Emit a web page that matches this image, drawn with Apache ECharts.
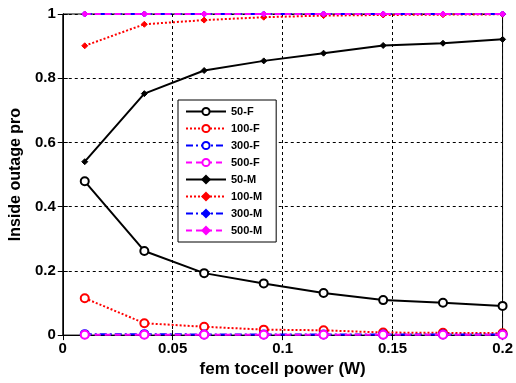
<!DOCTYPE html>
<html>
<head>
<meta charset="utf-8">
<script src="https://cdn.jsdelivr.net/npm/echarts@6/dist/echarts.min.js"></script>
<style>
  html, body { margin: 0; padding: 0; background: #fff; }
  #chart { width: 516px; height: 383px; }
</style>
</head>
<body>
<div id="chart"></div>
<script>
// femtocell power (W)
const power = [0.01, 0.0371, 0.0643, 0.0914, 0.1186, 0.1457, 0.1729, 0.2];

const f50 = [0.479, 0.262, 0.193, 0.161, 0.131, 0.109, 0.101, 0.091];
const f100 = [0.115, 0.037, 0.026, 0.017, 0.015, 0.008, 0.007, 0.006];
const f300 = [0.003, 0.003, 0.002, 0.002, 0.002, 0.002, 0.002, 0.002];
const f500 = [0.001, 0.001, 0.001, 0.001, 0.001, 0.001, 0.001, 0.001];
const m50 = [0.540, 0.752, 0.824, 0.854, 0.878, 0.902, 0.909, 0.921];
const m100 = [0.901, 0.968, 0.981, 0.990, 0.995, 0.997, 0.998, 0.999];
const m300 = [1, 1, 1, 1, 1, 1, 1, 1];
const m500 = [1, 1, 1, 1, 1, 1, 1, 1];

const names = ['50-F', '100-F', '300-F', '500-F', '50-M', '100-M', '300-M', '500-M'];
const values = [f50, f100, f300, f500, m50, m100, m300, m500];
const colors = ['#000000', '#ff0000', '#0000ff', '#ff00ff'];
const dashes = ['solid', [2, 2], [7, 3, 2, 3], [6, 4]];

const pairs = (ys) => power.map((x, i) => [x, ys[i]]);

const series = names.map((name, i) => {
  const k = i % 4;
  const isF = i < 4;
  return {
    name: name,
    type: 'line',
    data: pairs(values[i]),
    symbol: isF ? 'emptyCircle' : 'diamond',
    symbolSize: isF ? 8 : 6,
    color: colors[k],
    lineStyle: { color: colors[k], width: 2, type: dashes[k] },
    itemStyle: { color: colors[k], borderColor: colors[k], borderWidth: isF ? 2 : 1 },
    z: 2 + i
  };
});

const chart = echarts.init(document.getElementById('chart'));

const option = {
  animation: false,
  textStyle: { fontFamily: 'Arial, Liberation Sans, sans-serif' },
  grid: {
    left: 62, right: 12, top: 14, bottom: 47,
    show: true, borderColor: '#000', borderWidth: 1
  },
  legend: {
    orient: 'vertical',
    left: 178,
    top: 100,
    padding: [6, 14, 6, 7],
    itemWidth: 40,
    itemHeight: 9,
    itemGap: 6,
    backgroundColor: '#fff',
    borderColor: '#000',
    borderWidth: 1,
    textStyle: { fontSize: 11, fontWeight: 'bold', color: '#000', fontFamily: 'Arial, Liberation Sans, sans-serif' },
    data: names
  },
  xAxis: [{
    type: 'value',
    min: 0,
    max: 0.2,
    interval: 0.05,
    name: 'fem tocell power (W)',
    nameLocation: 'middle',
    nameGap: 25,
    nameTextStyle: { fontSize: 17, fontWeight: 'bold', color: '#000' },
    axisLine: { lineStyle: { color: '#000' } },
    axisTick: { inside: true, length: 5, lineStyle: { color: '#000' } },
    axisLabel: { fontSize: 15, fontWeight: 'bold', color: '#000', margin: 6 },
    splitLine: { show: true, lineStyle: { color: '#000', type: [3, 3], width: 1 } }
  }, {
    type: 'value',
    position: 'top',
    min: 0,
    max: 0.2,
    interval: 0.05,
    axisLine: { lineStyle: { color: '#000' } },
    axisTick: { inside: true, length: 5, lineStyle: { color: '#000' } },
    axisLabel: { show: false },
    splitLine: { show: false }
  }],
  yAxis: [{
    type: 'value',
    min: 0,
    max: 1,
    interval: 0.2,
    name: 'Inside outage pro',
    nameLocation: 'middle',
    nameGap: 36,
    nameTextStyle: { fontSize: 16, fontWeight: 'bold', color: '#000' },
    axisLine: { show: true, lineStyle: { color: '#000' } },
    axisTick: { show: true, inside: true, length: 5, lineStyle: { color: '#000' } },
    axisLabel: { fontSize: 15, fontWeight: 'bold', color: '#000', margin: 7 },
    splitLine: { show: true, lineStyle: { color: '#000', type: [3, 3], width: 1 } }
  }, {
    type: 'value',
    position: 'right',
    min: 0,
    max: 1,
    interval: 0.2,
    axisLine: { show: true, lineStyle: { color: '#000' } },
    axisTick: { show: true, inside: true, length: 5, lineStyle: { color: '#000' } },
    axisLabel: { show: false },
    splitLine: { show: false }
  }],
  series: series
};

chart.setOption(option);
</script>
</body>
</html>
